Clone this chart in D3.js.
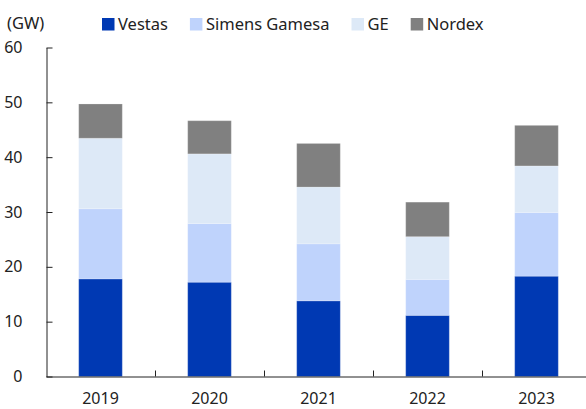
<!DOCTYPE html>
<html>
<head>
<meta charset="utf-8">
<script src="https://cdn.jsdelivr.net/npm/d3@7"></script>
<style>
  body { margin: 0; background: #fff; }
  svg { display: block; font-family: "Noto Sans", "Open Sans", sans-serif; }
</style>
</head>
<body>
<svg id="chart"></svg>
<script>
// data (GW)
const years = ["2019", "2020", "2021", "2022", "2023"];
const seriesNames = ["Vestas", "Simens Gamesa", "GE", "Nordex"];
const vestas = [17.8, 17.2, 13.8, 11.15, 18.3];
const siemensGamesa = [12.8, 10.7, 10.4, 6.55, 11.6];
const ge = [12.85, 12.7, 10.35, 7.8, 8.5];
const nordex = [6.25, 6.05, 7.95, 6.3, 7.4];
const yTicks = [0, 10, 20, 30, 40, 50, 60];

const colors = ["#0039b3", "#bfd3fc", "#dde9f7", "#808080"];

const width = 586, height = 409;
const margin = { top: 47, bottom: 32, left: 46, right: -5 };

const svg = d3.select("#chart")
    .attr("width", width)
    .attr("height", height);

// build rows for the stack
const table = years.map((y, i) => ({
    year: y,
    "Vestas": vestas[i],
    "Simens Gamesa": siemensGamesa[i],
    "GE": ge[i],
    "Nordex": nordex[i]
}));

const stacked = d3.stack().keys(seriesNames)(table);

const x = d3.scaleBand()
    .domain(years)
    .range([margin.left, width - margin.right])
    .padding(0);

const y = d3.scaleLinear()
    .domain([0, 60])
    .range([height - margin.bottom - 0.5, margin.top + 0.5]);

const barWidth = x.bandwidth() * 0.4;

// bars
svg.append("g")
    .selectAll("g")
    .data(stacked)
    .join("g")
    .attr("fill", (d, i) => colors[i])
    .selectAll("rect")
    .data(d => d)
    .join("rect")
    .attr("x", d => x(d.data.year) + (x.bandwidth() - barWidth) / 2)
    .attr("y", d => y(d[1]))
    .attr("width", barWidth)
    .attr("height", d => y(d[0]) - y(d[1]))
    .attr("stroke", "#fff")
    .attr("stroke-opacity", 0.2)
    .attr("stroke-width", 1);

// y axis, ticks point inward
const yAxis = d3.axisLeft(y)
    .tickValues(yTicks)
    .tickSizeInner(-6)
    .tickSizeOuter(0)
    .tickPadding(24);

const yAxisGroup = svg.append("g")
    .attr("transform", `translate(${margin.left + 0.5},0)`)
    .call(yAxis);
yAxisGroup.select(".domain").attr("stroke", "#222");
yAxisGroup.selectAll(".tick line").attr("stroke", "#222");
yAxisGroup.selectAll(".tick text")
    .attr("font-size", 16)
    .attr("fill", "#222")
    .attr("font-family", "Noto Sans, sans-serif");

// x axis
const xAxis = d3.axisBottom(x)
    .tickSize(0)
    .tickPadding(16);

const xAxisGroup = svg.append("g")
    .attr("transform", `translate(0,${y(0)})`)
    .call(xAxis);
xAxisGroup.select(".domain").attr("stroke", "#222");
xAxisGroup.selectAll(".tick text")
    .attr("font-size", 16)
    .attr("fill", "#222")
    .attr("font-family", "Noto Sans, sans-serif");

// category boundary ticks pointing up
svg.append("g")
    .selectAll("line")
    .data(years.slice(1))
    .join("line")
    .attr("x1", d => Math.round(x(d)) + 0.5)
    .attr("x2", d => Math.round(x(d)) + 0.5)
    .attr("y1", y(0))
    .attr("y2", y(0) - 6)
    .attr("stroke", "#222");

// unit label
svg.append("text")
    .attr("x", 7)
    .attr("y", 23)
    .attr("dy", "0.35em")
    .attr("font-size", 16.5)
    .attr("fill", "#222")
    .text("(GW)");

// legend
const legend = svg.append("g").attr("transform", "translate(102,18)");
let lx = 0;
seriesNames.forEach((name, i) => {
    const item = legend.append("g").attr("transform", `translate(${lx},0)`);
    item.append("rect")
        .attr("width", 12.5)
        .attr("height", 12.5)
        .attr("fill", colors[i]);
    const t = item.append("text")
        .attr("x", 16)
        .attr("y", 6.5)
        .attr("dy", "0.35em")
        .attr("font-size", 16.5)
        .attr("fill", "#222")
        .text(name);
    lx += 16 + t.node().getComputedTextLength() + 22;
});
</script>
</body>
</html>
